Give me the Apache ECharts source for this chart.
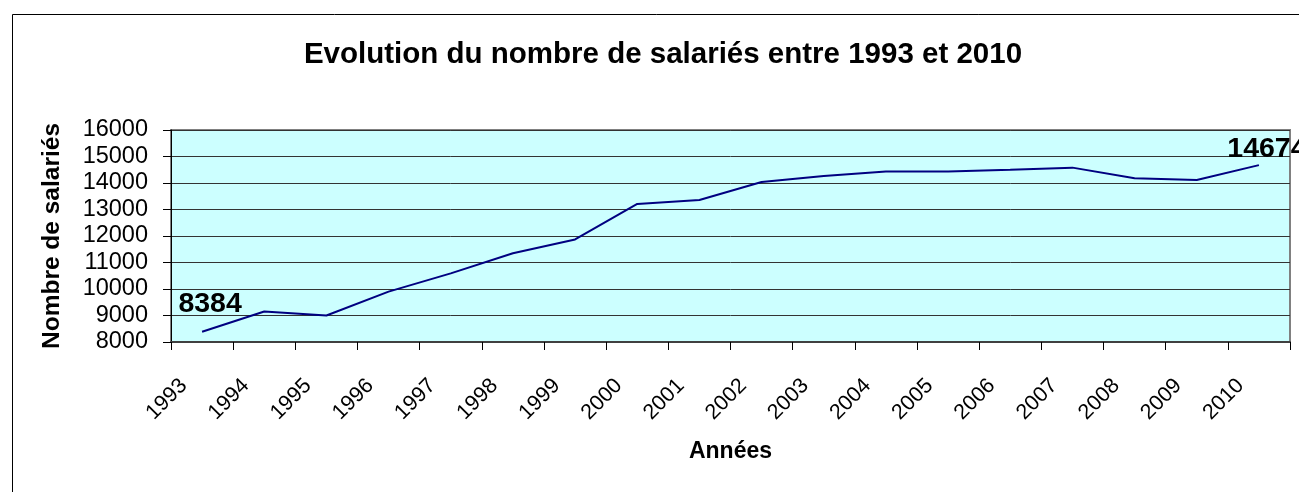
<!DOCTYPE html>
<html>
<head>
<meta charset="utf-8">
<script src="https://cdn.jsdelivr.net/npm/echarts@6/dist/echarts.min.js"></script>
<style>
html,body{margin:0;padding:0;background:#fff;}
#chart{width:1299px;height:492px;}
</style>
</head>
<body>
<div id="chart"></div>
<script>
var years = ['1993','1994','1995','1996','1997','1998','1999','2000','2001','2002','2003','2004','2005','2006','2007','2008','2009','2010'];
var salaries = [8384, 9150, 9000, 9900, 10590, 11350, 11870, 13210, 13360, 14040, 14260, 14430, 14430, 14500, 14580, 14180, 14110, 14674];
var yTicks = [8000, 9000, 10000, 11000, 12000, 13000, 14000, 15000, 16000];
var titleText = 'Evolution du nombre de salariés entre 1993 et 2010';
var yName = 'Nombre de salariés';
var xName = 'Années';

var FONT = '"Liberation Sans", Arial, sans-serif';
var lastIdx = salaries.length - 1;
var seriesData = salaries.map(function (v, i) {
  if (i === 0) {
    return { value: v, label: { show: true, position: 'top', offset: [8, -8] } };
  }
  if (i === lastIdx) {
    return { value: v, label: { show: true, position: 'top', offset: [8, 4] } };
  }
  return v;
});

var chart = echarts.init(document.getElementById('chart'), null, { renderer: 'canvas' });
chart.setOption({
  animation: false,
  backgroundColor: '#ffffff',
  textStyle: { fontFamily: FONT },
  title: {
    text: titleText,
    left: 658,
    top: 34.5,
    textAlign: 'center',
    textStyle: { fontFamily: FONT, fontSize: 29.5, fontWeight: 'bold', color: '#000' }
  },
  graphic: [{
    type: 'rect',
    z: -10,
    left: 10, top: 12,
    shape: { width: 1400, height: 600 },
    style: { fill: 'none', stroke: '#000', lineWidth: 1 }
  }],
  grid: {
    left: 171, right: 9, top: 130, bottom: 150,
    show: true,
    backgroundColor: '#CCFFFF',
    borderColor: '#808080',
    borderWidth: 2
  },
  xAxis: {
    type: 'category',
    data: years,
    boundaryGap: true,
    name: xName,
    nameLocation: 'middle',
    nameGap: 98,
    nameTextStyle: { fontFamily: FONT, fontSize: 23, fontWeight: 'bold', color: '#000', verticalAlign: 'top' },
    axisLine: { lineStyle: { color: '#404040', width: 2 } },
    axisTick: { show: true, length: 8, inside: false, alignWithLabel: false, lineStyle: { color: '#000' } },
    axisLabel: { rotate: 45, margin: 22, padding: [0, 26, 0, 0], fontFamily: FONT, fontSize: 21.5, color: '#000', interval: 0 },
    splitLine: { show: false }
  },
  yAxis: {
    type: 'value',
    min: yTicks[0],
    max: yTicks[yTicks.length - 1],
    interval: 1000,
    name: yName,
    nameLocation: 'middle',
    nameRotate: 90,
    nameGap: 106,
    nameTextStyle: { fontFamily: FONT, fontSize: 24.5, fontWeight: 'bold', color: '#000' },
    axisLine: { show: true, lineStyle: { color: '#000', width: 1 } },
    axisTick: { show: true, length: 8, inside: false, lineStyle: { color: '#000' } },
    axisLabel: { margin: 23, fontFamily: FONT, fontSize: 23.5, color: '#000', formatter: function (v) { return String(v); } },
    splitLine: { show: true, lineStyle: { color: '#333', width: 1 } }
  },
  series: [{
    type: 'line',
    data: seriesData,
    symbol: 'circle',
    symbolSize: 0,
    showSymbol: true,
    smooth: false,
    lineStyle: { color: '#000080', width: 2 },
    itemStyle: { color: '#000080' },
    label: {
      show: false,
      fontFamily: FONT, fontSize: 28.5, fontWeight: 'bold', color: '#000'
    },
    z: 5
  }]
});
</script>
</body>
</html>
